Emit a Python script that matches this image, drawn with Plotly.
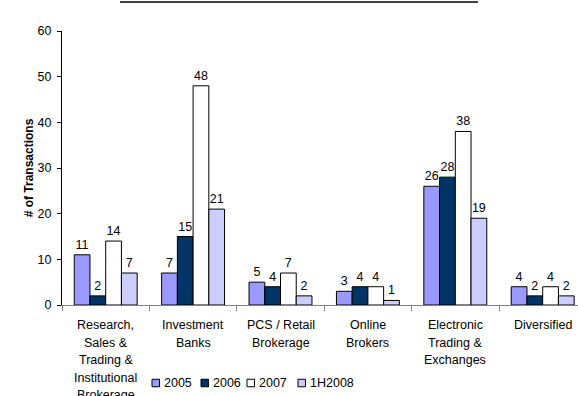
import plotly.graph_objects as go

# Transactions by target type, per period
categories = [
    "Research,\nSales &\nTrading &\nInstitutional\nBrokerage",
    "Investment\nBanks",
    "PCS / Retail\nBrokerage",
    "Online\nBrokers",
    "Electronic\nTrading &\nExchanges",
    "Diversified",
]
periods = ["2005", "2006", "2007", "1H2008"]
values_2005 = [11, 7, 5, 3, 26, 4]
values_2006 = [2, 15, 4, 4, 28, 2]
values_2007 = [14, 48, 7, 4, 38, 4]
values_1h2008 = [7, 21, 2, 1, 19, 2]
y_ticks = [0, 10, 20, 30, 40, 50, 60]

series = [values_2005, values_2006, values_2007, values_1h2008]
colors = ["#9999FF", "#003366", "#FFFFFF", "#CCCCFF"]

FONT = "Liberation Sans, Arial, sans-serif"
W, H = 578, 396
L, R, T, B = 62, 0, 31, 91
PW, PH = W - L - R, H - T - B

idx = list(range(len(categories)))

fig = go.Figure()
for name, vals, col in zip(periods, series, colors):
    fig.add_trace(go.Bar(
        x=idx, y=vals, name=name,
        marker=dict(color=col, line=dict(color="#000000", width=1)),
        text=[str(v) for v in vals],
        textposition="outside",
        textfont=dict(family=FONT, size=12.5, color="#000000"),
        cliponaxis=False,
        showlegend=False,
    ))

# Multi-line category labels, one annotation per line
line_h = 17.5
for i, lab in enumerate(categories):
    for j, part in enumerate(lab.split("\n")):
        fig.add_annotation(
            x=i, xref="x", y=0, yref="paper",
            yshift=-(20 + j * line_h), yanchor="middle",
            text=part, showarrow=False,
            font=dict(family=FONT, size=12.5, color="#000000"),
        )

# Legend row drawn as swatches and labels
legend_x = [152, 201, 247, 298]
sq = 7.5
ly = 383


def py(v):
    # pixel row -> paper y
    return ((H - B) - v) / PH


def px(v):
    # pixel column -> paper x
    return (v - L) / PW


for name, col, lx in zip(periods, colors, legend_x):
    fig.add_shape(
        type="rect", xref="paper", yref="paper",
        x0=px(lx), x1=px(lx + sq),
        y0=py(ly + sq / 2), y1=py(ly - sq / 2),
        fillcolor=col, line=dict(color="#000000", width=1),
    )
    fig.add_annotation(
        x=px(lx + sq + 2), xref="paper", xanchor="left",
        y=py(ly), yref="paper", yanchor="middle",
        text=name, showarrow=False,
        font=dict(family=FONT, size=12.5, color="#000000"),
    )

# Underline of the heading at the top edge
fig.add_shape(
    type="line", xref="paper", yref="paper",
    x0=px(120), x1=px(478), y0=py(2), y1=py(2),
    line=dict(color="#000000", width=1.6),
)

cat_w = 87.4
fig.update_layout(
    width=W, height=H,
    margin=dict(l=L, r=R, t=T, b=B, pad=0),
    paper_bgcolor="#FFFFFF", plot_bgcolor="#FFFFFF",
    barmode="group", bargap=0.28, bargroupgap=0,
    font=dict(family=FONT, size=12.5, color="#000000"),
    xaxis=dict(
        range=[-0.5, -0.5 + PW / cat_w],
        tickvals=[i - 0.5 for i in range(len(categories) + 1)],
        ticktext=[""] * (len(categories) + 1),
        ticks="outside", ticklen=5, tickcolor="#808080", tickwidth=1,
        showline=True, linecolor="#808080", linewidth=1,
        showgrid=False, zeroline=False, fixedrange=True,
    ),
    yaxis=dict(
        range=[0, 60], tickvals=y_ticks,
        ticks="outside", ticklen=4, tickcolor="#000000", tickwidth=1,
        ticklabelstandoff=3,
        showline=True, linecolor="#000000", linewidth=1,
        showgrid=False, zeroline=False,
        tickfont=dict(family=FONT, size=12.5),
        title=dict(text="<b># of Transactions</b>", standoff=1,
                   font=dict(family=FONT, size=12)),
    ),
)

fig.write_html("out.html")
